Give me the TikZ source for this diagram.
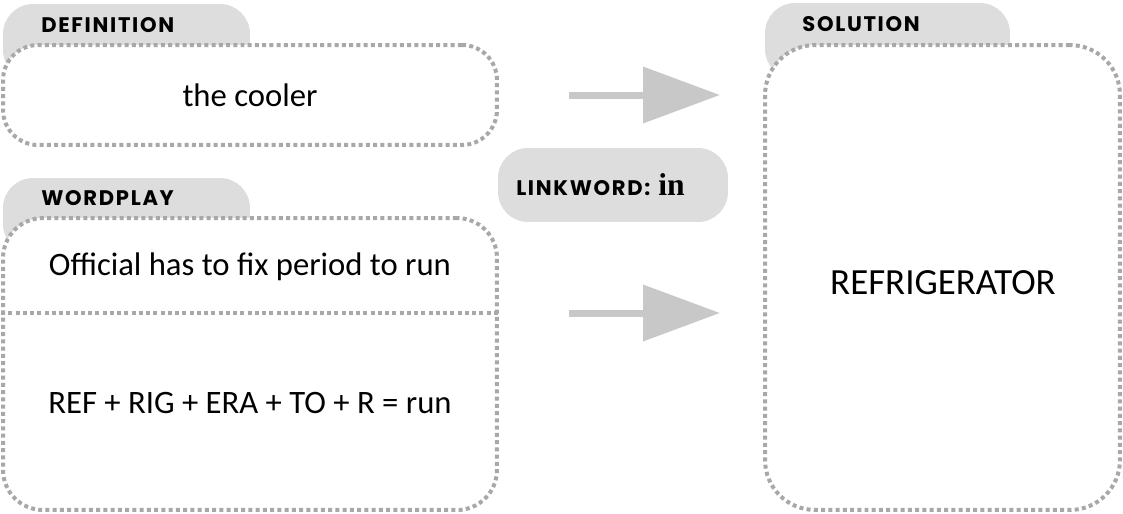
\documentclass[tikz,border=0pt]{standalone}
\usepackage{fontspec}
\setmainfont{Carlito}
\newfontfamily\tabfont[LetterSpace=8]{Poppins}
\newfontfamily\linkserif{Liberation Serif}
\usepackage{xcolor}
\usepackage{tikz}
\usetikzlibrary{positioning, arrows.meta, calc}

\definecolor{tabgray}{HTML}{DDDDDD}
\definecolor{dotgray}{HTML}{A8A8A8}
\definecolor{arrowgray}{HTML}{C8C8C8}

\begin{document}
\begin{tikzpicture}[
  x=0.02cm, y=-0.02cm,
  tab/.style={fill=tabgray, rounded corners=0.6cm, minimum width=4.94cm,
              minimum height=1.52cm, inner sep=0pt},
  tablabel/.style={anchor=west, inner sep=0pt, font=\tabfont\bfseries\fontsize{12}{14}\selectfont},
  box/.style={draw=dotgray, fill=white, line width=0.08cm,
              dash pattern=on 0.08cm off 0.065cm, inner sep=0pt},
  dotline/.style={draw=dotgray, line width=0.08cm, dash pattern=on 0.08cm off 0.065cm},
  pill/.style={fill=tabgray, rounded corners=0.6cm, minimum width=4.6cm,
               minimum height=1.48cm, inner sep=0pt},
  bigarrow/.style={arrowgray, line width=0.14cm,
                   -{Triangle[length=1.54cm, width=1.1cm]}},
  cluetext/.style={font=\fontsize{18.6}{21}\selectfont},
]
\useasboundingbox (0,0) rectangle (1123,514);

\node[tab] (deftab) at (126.5,42) {};
\node[tab] (wptab) at (126.5,216) {};
\node[tab, minimum width=4.9cm] (soltab) at (887.5,41) {};

\node[box, rounded corners=0.7cm, minimum width=9.88cm, minimum height=2cm] (defbox) at (250,95) {};
\node[box, rounded corners=0.8cm, minimum width=9.88cm, minimum height=5.84cm] (wpbox) at (250,364) {};
\node[box, rounded corners=1cm, minimum width=7.1cm, minimum height=9.3cm] (solbox) at (942.5,277.5) {};

\node[tablabel] (deflabel) at (41,25) {DEFINITION};
\node[tablabel] (wplabel) at (41,198) {WORDPLAY};
\node[tablabel] (sollabel) at (802,24) {SOLUTION};

\coordinate (split) at (250,313);
\draw[dotline] (split -| wpbox.west) -- (split -| wpbox.east);

\node[cluetext] (definition) at (250,95) {the cooler};
\node[cluetext] (clue) at (250,267) {Official has to fix period to run};
\node[cluetext] (parse) at (250,403) {REF + RIG + ERA + TO + R = run};
\node[font=\fontsize{21}{25}\selectfont] (answer) at (943,283) {REFRIGERATOR};

\node[pill] (linkword) at (613,185)
  {{\tabfont\bfseries\fontsize{12}{14}\selectfont LINKWORD:}\hspace*{0.16cm}{\linkserif\bfseries\fontsize{18}{20}\selectfont in}\hspace*{0.5cm}};

\draw[bigarrow] ([xshift=1.4cm]defbox.east) -- ([xshift=-0.86cm]defbox.east -| solbox.west);
\draw[bigarrow] ([xshift=1.4cm]split -| wpbox.east) -- ([xshift=-0.86cm]split -| solbox.west);
\end{tikzpicture}
\end{document}
